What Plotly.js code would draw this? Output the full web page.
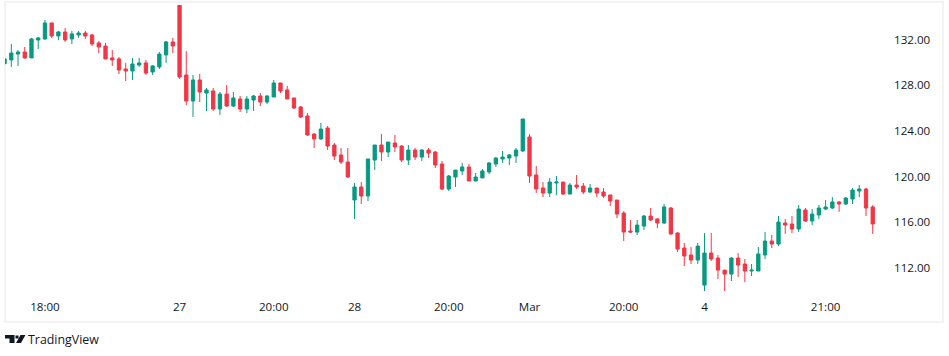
<!DOCTYPE html>
<html><head><meta charset="utf-8">
<script src="https://cdn.plot.ly/plotly-3.0.1.min.js"></script>
<style>html,body{margin:0;padding:0;background:#fff}#c{width:949px;height:356px}</style>
</head><body><div id="c"></div>
<script>
const tickIdx=[5,25,39,51,65,77,91,103,121];
const tickText=['18:00','27','20:00','28','20:00','Mar','20:00','4','21:00'];
const priceTicks=[112,116,120,124,128,132];
const opens=[129.89,130.21,130.73,130.91,130.39,131.96,132.05,133.45,132.31,132.66,132.05,132.40,132.57,132.40,131.70,131.43,130.39,130.30,129.42,129.25,129.77,129.95,129.16,129.60,130.65,131.79,136.5,128.90,126.62,128.46,127.32,127.50,125.92,127.23,126.18,126.80,125.92,126.71,127.06,126.53,126.97,128.20,127.59,126.89,126.10,125.31,123.73,123.30,124.26,122.77,121.90,121.28,117.96,119.10,118.31,121.46,122.77,122.16,122.95,122.68,121.46,122.33,121.72,122.33,122.16,121.11,118.92,119.97,120.50,120.85,119.62,119.89,120.41,121.11,121.55,121.63,121.81,122.25,123.47,120.15,119.01,118.57,119.45,119.53,118.48,119.27,119.18,118.66,119.01,118.66,118.40,117.96,116.82,115.25,115.16,115.68,116.56,116.30,115.95,117.26,115.07,113.76,113.15,112.71,110.52,113.32,112.88,111.83,111.48,112.88,112.36,111.75,111.75,113.15,114.37,114.11,115.95,115.86,115.42,117.09,116.12,116.65,117.17,117.26,117.79,117.61,118.05,118.75,118.92,117.35];
const highs=[130.35,131.61,131.08,131.35,132.14,132.22,133.71,133.45,132.75,133.01,132.75,132.75,132.75,132.49,131.87,131.70,131.08,130.47,129.95,130.39,130.39,130.21,129.77,130.91,131.87,132.14,136.5,130.98,128.90,128.99,127.76,127.76,127.41,128.02,127.41,127.06,127.06,127.15,127.32,127.15,128.46,128.20,127.94,126.89,126.18,125.57,123.82,124.70,124.43,122.95,122.51,122.51,119.45,119.53,121.55,122.77,123.73,123.03,123.65,122.77,122.77,122.51,122.42,122.51,122.25,121.37,120.15,120.58,121.20,121.11,120.32,120.67,121.28,121.72,122.25,121.98,122.51,125.05,123.73,120.93,119.53,119.88,120.06,119.53,119.45,120.15,119.45,119.36,119.01,119.01,118.40,117.96,116.99,116.21,116.21,116.65,117.26,116.38,117.61,117.35,115.16,114.20,113.85,114.20,115.07,115.07,113.15,111.83,112.97,113.32,112.80,112.36,113.85,115.16,114.90,116.56,116.30,116.56,117.52,117.26,117.17,117.52,117.96,118.22,117.87,118.22,119.01,119.27,119.01,117.52];
const lows=[129.80,129.60,129.69,130.30,130.39,131.17,131.96,132.14,131.96,131.79,131.61,132.14,132.05,131.43,130.82,130.30,129.69,128.98,128.37,128.46,129.60,128.90,128.90,129.42,129.95,130.82,128.55,126.27,125.22,126.53,125.75,125.75,125.40,126.10,126.10,125.66,125.57,125.75,126.18,126.36,126.97,127.32,126.80,125.92,125.13,123.56,122.51,123.21,122.33,121.46,121.11,119.89,116.30,117.61,117.87,120.58,121.37,121.72,122.16,121.28,121.02,121.46,121.37,121.63,120.76,118.83,118.75,119.10,120.15,119.62,119.62,119.89,120.23,120.85,121.20,121.02,121.20,122.16,119.45,118.57,118.22,118.22,118.40,118.40,118.48,118.92,118.48,118.57,118.22,118.13,117.43,116.38,114.37,115.07,114.90,115.33,116.12,115.51,115.86,114.90,113.41,112.18,112.36,112.36,110.00,112.62,111.05,110.00,110.87,111.22,110.78,111.31,111.75,112.80,113.76,113.93,114.99,115.07,115.16,116.03,115.77,116.30,117.09,117.17,116.91,117.52,117.61,118.22,116.56,114.99];
const closes=[130.30,130.82,130.91,130.39,132.05,132.14,133.45,132.31,132.66,131.96,132.49,132.57,132.31,131.61,131.35,130.30,130.21,129.33,129.25,129.86,129.95,129.07,129.69,130.73,131.79,131.43,128.72,126.62,128.46,127.41,127.59,125.92,127.23,126.18,126.89,125.92,126.80,127.06,126.53,127.06,128.20,127.50,126.80,126.01,125.22,123.65,123.30,124.17,122.68,121.81,121.28,119.97,119.10,118.31,121.55,122.77,122.16,123.03,122.60,121.46,122.33,121.72,122.33,122.07,121.02,118.92,120.06,120.58,120.85,119.62,119.97,120.50,121.20,121.63,121.72,121.90,122.33,125.05,120.06,118.92,118.57,119.53,119.53,118.48,119.27,119.10,118.66,119.01,118.57,118.31,117.87,116.73,115.16,115.16,115.77,116.56,116.21,115.95,117.35,114.99,113.67,113.06,112.71,113.93,113.32,112.80,111.83,111.48,112.88,112.27,111.75,111.83,113.24,114.37,114.11,116.03,115.77,115.42,117.17,116.12,116.73,117.26,117.35,117.79,117.61,118.13,118.83,118.92,117.26,115.86];
const index=opens.map((_,k)=>k-1);
const green='#089981', red='#F23645', ink='#131722', frame='#F3F3F3';
const W=949,H=356,L=5,R=887,T=5,B=295;
const px=x=>(x-L)/(R-L), py=y=>(B-y)/(B-T);
const pt=(x,y)=>px(x).toFixed(4)+','+py(y).toFixed(4);
const logoPath='M'+pt(5,335)+' L'+pt(14.5,335)+' L'+pt(14.5,343)+' L'+pt(9.5,343)+' L'+pt(9.5,338.5)+' L'+pt(5,338.5)+' Z '
 +'M'+pt(20.5,335)+' L'+pt(25.5,335)+' L'+pt(21,343)+' L'+pt(16,343)+' Z '
 +'M'+pt(15.5,335.5)+' L'+pt(18.5,335.5)+' L'+pt(18.5,338.5)+' L'+pt(15.5,338.5)+' Z';
const trace={type:'candlestick',x:index,open:opens,high:highs,low:lows,close:closes,width:0.72,whiskerwidth:0,
 increasing:{line:{color:green,width:1},fillcolor:green},decreasing:{line:{color:red,width:1},fillcolor:red},hoverinfo:'skip'};
const layout={width:W,height:H,margin:{l:L,r:W-R,t:T,b:H-B,pad:0},paper_bgcolor:'#fff',plot_bgcolor:'#fff',showlegend:false,dragmode:false,
 font:{family:'"Open Sans","Noto Sans",sans-serif',size:11.6,color:ink},
 xaxis:{range:[-0.936,130.12],rangeslider:{visible:false},tickmode:'array',tickvals:tickIdx,ticktext:tickText,showgrid:false,zeroline:false,showline:false,ticks:'',tickangle:0,automargin:false,ticklabelstandoff:3},
 yaxis:{side:'right',range:[109.65,135.02],tickmode:'array',tickvals:priceTicks,ticktext:priceTicks.map(v=>v.toFixed(2)),showgrid:false,zeroline:false,showline:false,ticks:'',automargin:false,ticklabelstandoff:6},
 shapes:[{type:'rect',xref:'paper',yref:'paper',x0:px(5),x1:px(943),y0:py(322),y1:py(2),line:{color:frame,width:2},fillcolor:'rgba(0,0,0,0)',layer:'below'},
  {type:'path',xref:'paper',yref:'paper',path:logoPath,fillcolor:ink,line:{width:0}}],
 annotations:[{xref:'paper',yref:'paper',x:px(28),y:py(339.5),xanchor:'left',yanchor:'middle',xshift:-2,text:'TradingView',showarrow:false,font:{size:12.4,color:ink}}]};
Plotly.newPlot('c',[trace],layout,{displayModeBar:false,staticPlot:true});
</script></body></html>
